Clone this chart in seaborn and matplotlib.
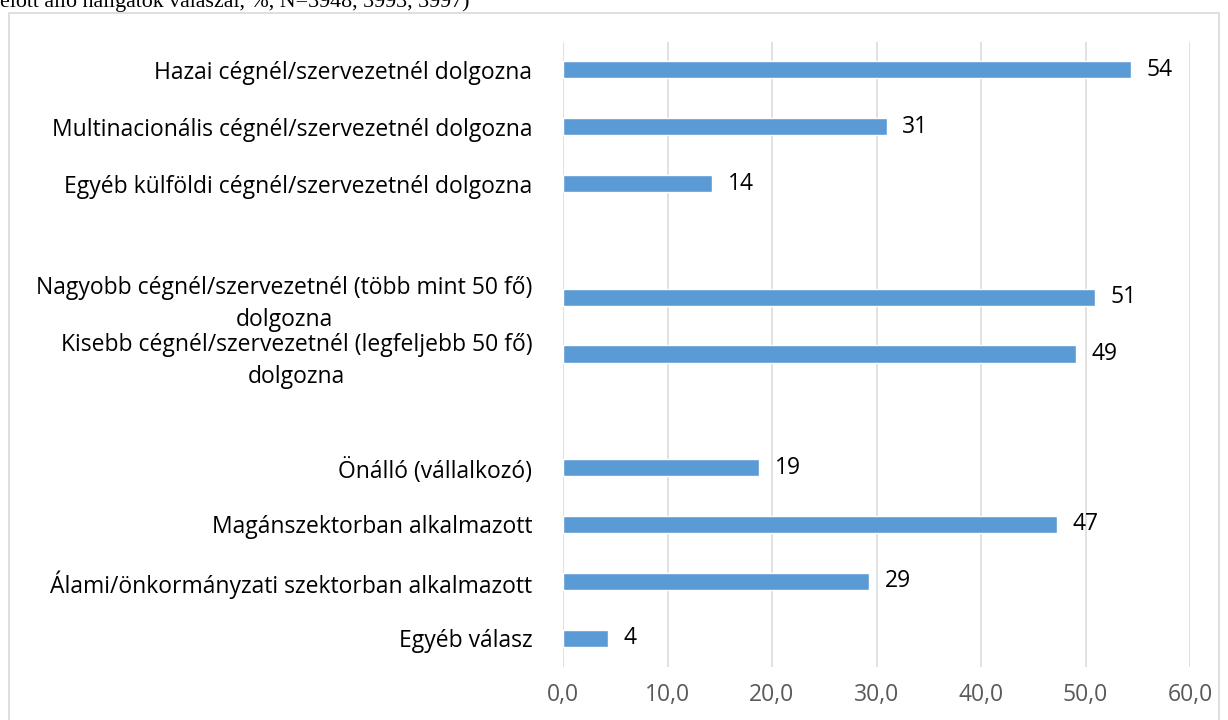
import pandas as pd
import matplotlib
matplotlib.use("Agg")
import matplotlib.pyplot as plt
from matplotlib.patches import Rectangle
from matplotlib.ticker import FuncFormatter
import seaborn as sns

# data
labels = [
    "Hazai cégnél/szervezetnél dolgozna",
    "Multinacionális cégnél/szervezetnél dolgozna",
    "Egyéb külföldi cégnél/szervezetnél dolgozna",
    "Nagyobb cégnél/szervezetnél (több mint 50 fő)\ndolgozna",
    "Kisebb cégnél/szervezetnél (legfeljebb 50 fő)\ndolgozna",
    "Önálló (vállalkozó)",
    "Magánszektorban alkalmazott",
    "Álami/önkormányzati szektorban alkalmazott",
    "Egyéb válasz",
]
values = [54.4, 31.0, 14.3, 50.9, 49.1, 18.8, 47.3, 29.3, 4.3]
# empty slots separate the three question groups
order = labels[:3] + [" "] + labels[3:5] + ["  "] + labels[5:]
xticks = [0, 10, 20, 30, 40, 50, 60]
title = "előtt álló hallgatók válaszai, %, N=3948, 3993, 3997)"

df = pd.DataFrame({"label": labels, "value": values})

sns.set_style("white")
plt.rcParams['font.family'] = ['Open Sans', 'DejaVu Sans']

fig = plt.figure(figsize=(12.28, 7.2), dpi=100)
ax = fig.add_axes([563 / 1228, 1 - 666.5 / 720, (1190 - 563) / 1228, 625 / 720])

sns.barplot(data=df, x="value", y="label", order=order, color="#5B9BD5",
            width=0.3, saturation=1, ax=ax)

ax.bar_label(ax.containers[0], fmt="%.0f", padding=11, fontsize=16.5, color="black")

ax.set_xlim(0, 60)
ax.set_xticks(xticks)
ax.xaxis.set_major_formatter(FuncFormatter(lambda v, p: f"{v:.1f}".replace(".", ",")))
ax.set_xlabel("")
ax.set_ylabel("")
ax.grid(axis="x", color="#d9d9d9", linewidth=1.1)
ax.set_axisbelow(True)
for s in ax.spines.values():
    s.set_visible(False)
ax.tick_params(axis="x", length=0, pad=12, labelsize=16.5, labelcolor="#595959")
ax.tick_params(axis="y", length=0, pad=22, labelsize=16.5, labelcolor="black")
for t in ax.get_yticklabels():
    t.set_multialignment("center")
    t.set_linespacing(1.42)

# chart frame and cut-off caption
fig.patches.append(Rectangle((9 / 1228, -0.05), (1219 - 9) / 1228, 1.05 - 13 / 720,
                             transform=fig.transFigure, fill=False,
                             edgecolor="#d9d9d9", linewidth=1.2))
fig.text(0.0, 1 - 7 / 720, title, family="Liberation Serif", fontsize=15.8,
         va="baseline", ha="left", color="black")

fig.savefig("out.png", dpi=100)
